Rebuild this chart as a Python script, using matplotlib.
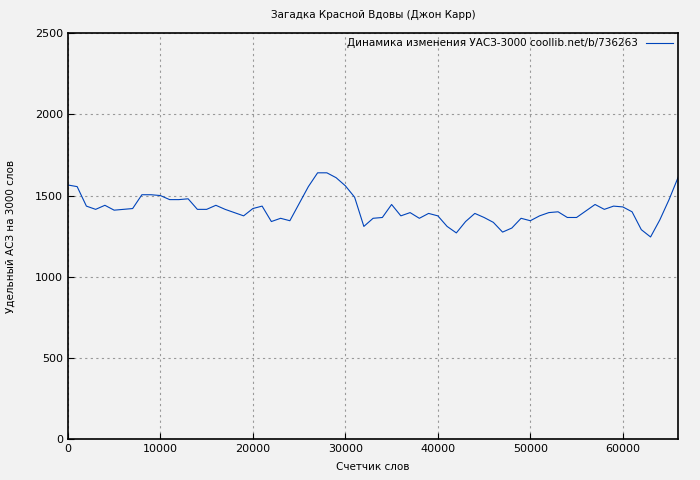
import matplotlib
matplotlib.use("Agg")
import matplotlib.pyplot as plt

words = list(range(0, 67000, 1000))
values = [1565,1555,1435,1415,1440,1410,1415,1420,1505,1505,1500,1475,1475,1480,1415,1415,1440,1415,1395,1375,
          1420,1435,1340,1360,1345,1450,1555,1640,1640,1610,1560,1490,1310,1360,1365,1445,1375,1395,1360,1390,
          1375,1310,1270,1340,1390,1365,1335,1275,1300,1360,1345,1375,1395,1400,1365,1365,1405,1445,1415,1435,
          1430,1400,1290,1245,1350,1475,1615]

fig = plt.figure(figsize=(7, 4.8), dpi=100, facecolor='#f2f2f2')
ax = fig.add_axes([0.097, 0.085, 0.872, 0.846], facecolor='#f2f2f2')
ax.plot(words, values, color='#0044bb', lw=0.8, label='Динамика изменения УАСЗ-3000 coollib.net/b/736263')
ax.set_xlim(0, 66000)
ax.set_ylim(0, 2500)
ax.set_xticks(range(0, 66000, 10000))
ax.set_yticks(range(0, 2501, 500))
ax.grid(True, color='#999999', ls=(0, (2, 3)), lw=0.8)
ax.tick_params(labelsize=8, direction='in', length=4)
for s in ax.spines.values():
    s.set_linewidth(1.2)
ax.set_title('Загадка Красной Вдовы (Джон Карр)', fontsize=7.5, pad=11)
ax.set_xlabel('Счетчик слов', fontsize=7.5, labelpad=6)
ax.set_ylabel('Удельный АСЗ на 3000 слов', fontsize=7.5, labelpad=14)
leg = ax.legend(loc='upper right', fontsize=7.5, frameon=False, markerfirst=False, handlelength=2.6,
                borderaxespad=0.1)
fig.savefig('out.png', dpi=100, facecolor=fig.get_facecolor())
